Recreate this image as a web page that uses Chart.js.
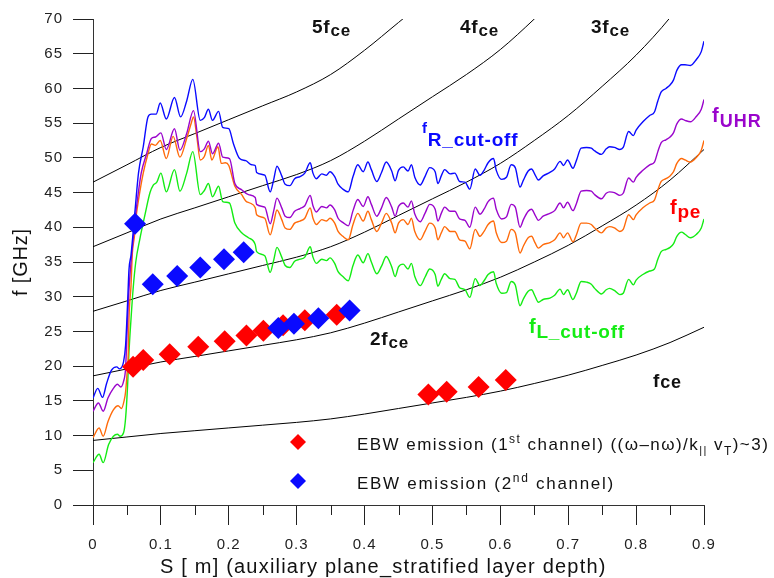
<!DOCTYPE html>
<html>
<head>
<meta charset="utf-8">
<script src="https://cdn.jsdelivr.net/npm/chart.js@4"></script>
<style>
  html, body { margin: 0; padding: 0; background: #fff; }
  canvas { display: block; }
</style>
</head>
<body>
<canvas id="chart" width="774" height="578"></canvas>
<script>
// Frequencies along the stratified layer depth S [m]

// harmonics of the electron cyclotron frequency
const harmS = [0, 0.05, 0.1, 0.15, 0.2, 0.25, 0.3, 0.35, 0.4, 0.45, 0.5, 0.55, 0.6, 0.65, 0.7, 0.75, 0.8, 0.85, 0.9];
const fce1 = [9.3, 9.8, 10.3, 10.7, 11.1, 11.5, 11.9, 12.4, 13.1, 13.9, 14.7, 15.5, 16.4, 17.5, 18.7, 20.1, 21.6, 23.4, 25.6];
const fce2 = [18.6, 19.6, 20.6, 21.4, 22.2, 23.0, 23.8, 24.8, 26.2, 27.8, 29.4, 31.0, 32.8, 35.0, 37.4, 40.2, 43.2, 46.8, 51.2];
const fce3 = [27.9, 29.4, 30.9, 32.1, 33.3, 34.5, 35.7, 37.2, 39.3, 41.7, 44.1, 46.5, 49.2, 52.5, 56.1, 60.3, 64.8, 70.2, 76.8];
const fce4 = [37.2, 39.2, 41.2, 42.8, 44.4, 46.0, 47.6, 49.6, 52.4, 55.6, 58.8, 62.0, 65.6, 70.0, 74.8];
const fce5 = [46.5, 49.0, 51.5, 53.5, 55.5, 57.5, 59.5, 62.0, 65.5, 69.5, 73.5];

// shared depth grid of the noisy part (S >= 0.239)
const tailS = [
  0.239, 0.241, 0.253, 0.261, 0.266, 0.271, 0.278, 0.283, 0.290, 0.297,
  0.305, 0.312, 0.320, 0.324, 0.329, 0.337, 0.344, 0.349, 0.356, 0.361,
  0.368, 0.376, 0.383, 0.390, 0.398, 0.405, 0.410, 0.418, 0.425, 0.432,
  0.440, 0.445, 0.450, 0.457, 0.464, 0.469, 0.474, 0.482, 0.489, 0.496,
  0.504, 0.508, 0.513, 0.518, 0.526, 0.533, 0.540, 0.548, 0.555, 0.563,
  0.570, 0.576, 0.582, 0.590, 0.594, 0.602, 0.609, 0.616, 0.622, 0.629,
  0.634, 0.641, 0.646, 0.651, 0.656, 0.663, 0.673, 0.680, 0.688, 0.693,
  0.699, 0.707, 0.712, 0.719, 0.727, 0.734, 0.739, 0.749, 0.756, 0.761,
  0.768, 0.776, 0.781, 0.789, 0.796, 0.800, 0.810, 0.820, 0.827, 0.832,
  0.837, 0.844, 0.850, 0.855, 0.860, 0.867, 0.872, 0.880, 0.889, 0.896,
  0.900
];

// f_pe (orange)
const fpeHeadS = [0, 0.009, 0.015, 0.022, 0.030, 0.037, 0.042, 0.046, 0.048, 0.050, 0.052, 0.053, 0.056, 0.058, 0.061, 0.063, 0.067, 0.074, 0.081, 0.086, 0.092, 0.099, 0.108, 0.118, 0.128, 0.138, 0.145, 0.148, 0.153, 0.158, 0.164, 0.170, 0.175, 0.184, 0.189, 0.195, 0.200, 0.209, 0.219, 0.225, 0.231];
const fpeHead = [9.7, 11.1, 9.9, 12.0, 13.7, 14.3, 13.9, 15.1, 16.3, 18.7, 22.0, 26.8, 31.6, 36.3, 38.7, 41.1, 43.9, 47.8, 50.6, 52.0, 51.8, 52.5, 49.9, 53.1, 50.1, 52.8, 55.1, 55.9, 53.0, 49.7, 50.2, 51.8, 49.7, 51.6, 49.2, 49.3, 48.9, 45.9, 44.7, 43.8, 43.5];
const fpeTail = [
  42.8, 41.8, 41.3, 38.9, 40.6, 42.5, 41.1, 39.9, 39.7, 40.6,
  40.9, 41.3, 42.8, 41.3, 40.4, 41.1, 40.9, 41.3, 40.6, 39.4,
  38.7, 38.2, 40.4, 42.0, 40.9, 42.3, 41.1, 39.4, 40.6, 42.0,
  40.6, 39.2, 40.6, 41.1, 40.4, 41.3, 39.4, 38.2, 39.4, 40.6,
  39.9, 38.2, 39.2, 40.1, 39.4, 39.4, 38.2, 38.0, 36.9, 39.7,
  38.7, 39.4, 40.4, 40.9, 39.2, 37.8, 38.0, 39.7, 39.2, 36.3,
  37.3, 38.5, 38.7, 37.8, 37.0, 37.5, 37.8, 38.2, 39.2, 38.5,
  39.2, 37.9, 38.9, 40.6, 40.6, 40.4, 39.9, 39.2, 39.9, 40.1,
  39.9, 39.4, 39.7, 41.8, 41.1, 41.8, 42.8, 43.5, 43.9, 45.4,
  46.6, 47.0, 47.4, 48.0, 49.2, 49.9, 49.7, 49.4, 50.1, 51.1,
  52.5
];

// f_UHR (purple)
const uhrHeadS = [0, 0.008, 0.015, 0.022, 0.030, 0.036, 0.041, 0.045, 0.048, 0.050, 0.052, 0.054, 0.057, 0.062, 0.066, 0.071, 0.079, 0.086, 0.092, 0.100, 0.108, 0.120, 0.128, 0.138, 0.148, 0.158, 0.164, 0.170, 0.176, 0.185, 0.191, 0.201, 0.209, 0.219, 0.229];
const uhrHead = [13.5, 14.7, 13.5, 15.4, 16.8, 17.4, 17.0, 17.8, 19.7, 24.4, 29.2, 32.5, 36.0, 41.1, 44.4, 47.8, 50.6, 52.8, 53.0, 53.6, 51.2, 54.2, 51.1, 53.5, 56.8, 50.9, 51.3, 52.4, 50.6, 52.1, 50.1, 49.9, 46.3, 45.4, 44.7];
const uhrTail = [
  44.3, 43.3, 42.9, 40.5, 42.3, 44.2, 42.8, 41.6, 41.4, 42.3,
  42.7, 43.1, 44.6, 43.1, 42.2, 43.0, 42.8, 43.2, 42.5, 41.3,
  40.7, 40.2, 42.4, 44.0, 43.0, 44.4, 43.3, 41.6, 42.8, 44.3,
  42.9, 41.6, 43.0, 43.5, 42.9, 43.8, 41.9, 40.8, 42.0, 43.3,
  42.6, 40.9, 42.0, 42.9, 42.3, 42.3, 41.2, 41.0, 40.0, 42.9,
  41.9, 42.6, 43.7, 44.2, 42.6, 41.2, 41.5, 43.3, 42.9, 40.0,
  41.1, 42.3, 42.6, 41.8, 41.0, 41.6, 42.0, 42.4, 43.5, 42.8,
  43.6, 42.4, 43.4, 45.2, 45.3, 45.2, 44.7, 44.1, 44.9, 45.1,
  45.0, 44.6, 44.9, 47.1, 46.5, 47.2, 48.2, 49.0, 49.4, 50.9,
  52.2, 52.6, 53.0, 53.6, 54.9, 55.6, 55.4, 55.2, 56.0, 57.0,
  58.4
];

// f_R cut-off (blue)
const rcoHeadS = [0, 0.007, 0.014, 0.020, 0.027, 0.035, 0.039, 0.045, 0.048, 0.051, 0.053, 0.056, 0.062, 0.067, 0.074, 0.081, 0.086, 0.093, 0.099, 0.108, 0.120, 0.129, 0.138, 0.147, 0.158, 0.164, 0.170, 0.176, 0.185, 0.191, 0.200, 0.207, 0.216, 0.225, 0.234];
const rcoHead = [15.4, 16.8, 15.5, 17.5, 19.4, 19.9, 19.6, 20.6, 23.0, 29.2, 33.9, 36.0, 42.5, 47.8, 51.6, 55.9, 56.3, 56.3, 57.9, 55.6, 58.7, 55.9, 58.2, 61.3, 55.4, 55.8, 57.0, 55.4, 56.7, 54.4, 54.2, 52.0, 49.9, 49.6, 49.0];
const rcoTail = [
  48.9, 47.9, 47.5, 45.1, 46.8, 48.8, 47.4, 46.2, 46.0, 47.0,
  47.3, 47.8, 49.3, 47.8, 47.0, 47.7, 47.5, 48.0, 47.3, 46.2,
  45.5, 45.1, 47.3, 49.0, 48.0, 49.4, 48.3, 46.6, 47.9, 49.4,
  48.1, 46.7, 48.2, 48.7, 48.1, 49.0, 47.2, 46.1, 47.3, 48.6,
  48.0, 46.3, 47.4, 48.3, 47.7, 47.8, 46.6, 46.5, 45.5, 48.4,
  47.5, 48.2, 49.3, 49.9, 48.2, 46.9, 47.2, 49.0, 48.6, 45.8,
  46.8, 48.1, 48.4, 47.6, 46.8, 47.4, 47.9, 48.4, 49.5, 48.9,
  49.7, 48.5, 49.6, 51.4, 51.5, 51.4, 51.0, 50.5, 51.3, 51.6,
  51.5, 51.2, 51.5, 53.8, 53.2, 54.0, 55.2, 56.1, 56.6, 58.2,
  59.5, 60.0, 60.5, 61.2, 62.6, 63.4, 63.4, 63.3, 64.2, 65.3,
  66.8
];

// f_L cut-off (green)
const lcoHeadS = [0, 0.009, 0.015, 0.023, 0.030, 0.036, 0.040, 0.045, 0.048, 0.051, 0.053, 0.056, 0.059, 0.063, 0.069, 0.077, 0.084, 0.089, 0.094, 0.100, 0.108, 0.120, 0.128, 0.138, 0.147, 0.158, 0.164, 0.170, 0.176, 0.185, 0.191, 0.201, 0.209, 0.219, 0.229];
const lcoHead = [6.1, 7.3, 6.1, 8.7, 9.9, 10.2, 9.9, 10.4, 12.5, 17.3, 22.0, 26.8, 31.0, 35.0, 38.3, 42.0, 45.0, 46.1, 46.5, 47.8, 45.1, 48.3, 45.2, 47.8, 50.9, 44.7, 45.3, 46.3, 44.4, 45.9, 43.7, 43.5, 40.6, 39.2, 38.5];
const lcoTail = [
  37.5, 36.5, 35.9, 33.5, 35.2, 37.1, 35.7, 34.5, 34.2, 35.1,
  35.4, 35.7, 37.2, 35.7, 34.8, 35.4, 35.2, 35.6, 34.8, 33.6,
  32.9, 32.3, 34.5, 36.0, 34.9, 36.2, 35.0, 33.3, 34.4, 35.8,
  34.3, 32.9, 34.3, 34.7, 34.0, 34.8, 32.9, 31.6, 32.8, 34.0,
  33.2, 31.5, 32.5, 33.3, 32.6, 32.5, 31.3, 31.0, 29.9, 32.6,
  31.6, 32.3, 33.2, 33.6, 31.9, 30.5, 30.6, 32.2, 31.7, 28.7,
  29.7, 30.8, 31.0, 30.1, 29.2, 29.6, 29.8, 30.2, 31.1, 30.3,
  31.0, 29.6, 30.5, 32.2, 32.1, 31.8, 31.2, 30.4, 31.0, 31.2,
  30.9, 30.3, 30.5, 32.5, 31.7, 32.4, 33.2, 33.7, 34.0, 35.4,
  36.5, 36.8, 37.1, 37.6, 38.7, 39.3, 39.0, 38.5, 39.0, 39.9,
  41.2
];

// EBW emission points
const ebw1S = [0.059, 0.074, 0.113, 0.155, 0.194, 0.226, 0.251, 0.280, 0.312, 0.359, 0.494, 0.521, 0.568, 0.608];
const ebw1F = [19.9, 20.9, 21.7, 22.8, 23.6, 24.4, 25.1, 25.9, 26.6, 27.4, 15.9, 16.3, 17.0, 18.0];
const ebw2S = [0.062, 0.088, 0.124, 0.158, 0.193, 0.222, 0.273, 0.296, 0.332, 0.378];
const ebw2F = [40.5, 31.8, 33.0, 34.2, 35.4, 36.4, 25.5, 26.1, 26.9, 28.0];

const minorTicks = [0.05, 0.15, 0.25, 0.35, 0.45, 0.55, 0.65, 0.75, 0.85];

const FONT = '"Liberation Sans", Arial, sans-serif';
const BLUE = '#0a0aff', PURPLE = '#9a05cc', ORANGE = '#ff6a0a', GREEN = '#14ec14', RED = '#ff0000';

const pts = (xs, ys) => xs.map((x, i) => ({ x, y: ys[i] }));

function curve(xs, ys, color, width, order) {
  return {
    data: pts(xs, ys), showLine: true, borderColor: color, backgroundColor: color,
    borderWidth: width, pointRadius: 0, pointHoverRadius: 0, fill: false,
    cubicInterpolationMode: 'monotone', order
  };
}

function diamonds(xs, ys, color, order) {
  return {
    data: pts(xs, ys), showLine: false, pointStyle: 'rectRot', pointRadius: 11,
    backgroundColor: color, borderColor: color, borderWidth: 0, order
  };
}

// rich text: parts drawn one after another, each with its own size / baseline
function rich(ctx, x, parts, spacing) {
  ctx.letterSpacing = spacing + 'px';
  parts.forEach(p => {
    ctx.font = (p.bold ? 'bold ' : '') + p.size + 'px ' + FONT;
    ctx.fillStyle = p.color || '#111';
    ctx.fillText(p.t, x, p.y);
    x += ctx.measureText(p.t).width;
  });
}

function diamond(ctx, cx, cy, r, color) {
  ctx.fillStyle = color;
  ctx.beginPath();
  ctx.moveTo(cx, cy - r); ctx.lineTo(cx + r, cy); ctx.lineTo(cx, cy + r); ctx.lineTo(cx - r, cy);
  ctx.closePath();
  ctx.fill();
}

const decorations = {
  id: 'decorations',
  beforeDraw(chart) { chart.ctx.letterSpacing = '1px'; },
  afterDraw(chart) {
    const ctx = chart.ctx;
    const xs = chart.scales.x;
    const bottom = chart.chartArea.bottom;
    ctx.save();
    ctx.textAlign = 'left';
    ctx.textBaseline = 'alphabetic';

    // minor ticks on S axis
    ctx.strokeStyle = '#222';
    ctx.lineWidth = 1;
    minorTicks.forEach(v => {
      const px = Math.round(xs.getPixelForValue(v)) + 0.5;
      ctx.beginPath(); ctx.moveTo(px, bottom); ctx.lineTo(px, bottom + 10); ctx.stroke();
    });

    // harmonic labels
    const harm = (x, n, y) => rich(ctx, x, [
      { t: n + 'f', size: 19, bold: true, y },
      { t: 'ce', size: 17, bold: true, y: y + 3 }
    ], 0.8);
    harm(312, '5', 33);
    harm(460, '4', 33);
    harm(591, '3', 33);
    harm(370, '2', 345);
    rich(ctx, 653, [
      { t: 'f', size: 19, bold: true, y: 387 },
      { t: 'ce', size: 18, bold: true, y: 388 }
    ], 0.8);

    // cut-off / resonance labels
    rich(ctx, 422, [
      { t: 'f', size: 15, bold: true, y: 133, color: BLUE },
      { t: 'R_cut-off', size: 19, bold: true, y: 146, color: BLUE }
    ], 0.8);
    rich(ctx, 712, [
      { t: 'f', size: 20, bold: true, y: 122, color: PURPLE },
      { t: 'UHR', size: 18, bold: true, y: 127, color: PURPLE }
    ], 1);
    rich(ctx, 670, [
      { t: 'f', size: 20, bold: true, y: 214, color: RED },
      { t: 'pe', size: 19, bold: true, y: 218, color: RED }
    ], 0.8);
    rich(ctx, 529, [
      { t: 'f', size: 20, bold: true, y: 333, color: GREEN },
      { t: 'L_cut-off', size: 19, bold: true, y: 338, color: GREEN }
    ], 0.8);

    // legend
    diamond(ctx, 298, 442, 8, RED);
    diamond(ctx, 298, 481, 8, BLUE);
    rich(ctx, 357, [
      { t: 'EBW emission (1', size: 17, y: 450 },
      { t: 'st', size: 12, y: 443 },
      { t: ' channel) ((\u03c9\u2013n\u03c9)/k', size: 17, y: 450 },
      { t: '||', size: 11, y: 454 },
      { t: ' v', size: 17, y: 450 },
      { t: 'T', size: 12, y: 455 },
      { t: ')~3)', size: 17, y: 450 }
    ], 1.45);
    rich(ctx, 357, [
      { t: 'EBW emission (2', size: 17, y: 489 },
      { t: 'nd', size: 12, y: 482 },
      { t: ' channel)', size: 17, y: 489 }
    ], 1.7);

    // axis titles
    ctx.letterSpacing = '1.2px';
    ctx.fillStyle = '#111';
    ctx.font = '20px ' + FONT;
    ctx.fillText('S [ m] (auxiliary plane_stratified layer depth)', 160, 573);
    ctx.letterSpacing = '0.8px';
    ctx.translate(27, 262);
    ctx.rotate(-Math.PI / 2);
    ctx.textAlign = 'center';
    ctx.fillText('f [GHz]', 0, 0);
    ctx.restore();
  }
};

new Chart(document.getElementById('chart'), {
  type: 'scatter',
  data: {
    datasets: [
      diamonds(ebw2S, ebw2F, BLUE, 0),
      diamonds(ebw1S, ebw1F, RED, 1),
      curve([...rcoHeadS, ...tailS], [...rcoHead, ...rcoTail], BLUE, 1.4, 2),
      curve([...uhrHeadS, ...tailS], [...uhrHead, ...uhrTail], PURPLE, 1.4, 3),
      curve([...fpeHeadS, ...tailS], [...fpeHead, ...fpeTail], ORANGE, 1.4, 4),
      curve([...lcoHeadS, ...tailS], [...lcoHead, ...lcoTail], GREEN, 1.4, 5),
      curve(harmS, fce1, '#000', 1, 6),
      curve(harmS, fce2, '#000', 1, 7),
      curve(harmS, fce3, '#000', 1, 8),
      curve(harmS.slice(0, fce4.length), fce4, '#000', 1, 9),
      curve(harmS.slice(0, fce5.length), fce5, '#000', 1, 10)
    ]
  },
  options: {
    responsive: false,
    devicePixelRatio: 1,
    animation: false,
    layout: { padding: { top: 15, right: 70, left: 0, bottom: 0 } },
    plugins: { legend: { display: false }, tooltip: { enabled: false } },
    scales: {
      x: {
        type: 'linear', min: 0, max: 0.9,
        ticks: {
          stepSize: 0.1, autoSkip: false, maxRotation: 0, padding: 11, color: '#222',
          font: { family: FONT, size: 15 },
          callback: v => String(Math.round(v * 10) / 10)
        },
        grid: { drawOnChartArea: false, tickLength: 20, color: '#222', lineWidth: 1 },
        border: { color: '#333', width: 1 },
        afterFit: s => { s.height = 73; }
      },
      y: {
        min: 0, max: 70,
        ticks: { stepSize: 5, padding: 10, color: '#222', font: { family: FONT, size: 15 } },
        grid: { drawOnChartArea: false, tickLength: 20, color: '#222', lineWidth: 1 },
        border: { color: '#333', width: 1 },
        afterFit: s => { s.width = 93; }
      }
    }
  },
  plugins: [decorations]
});
</script>
</body>
</html>
